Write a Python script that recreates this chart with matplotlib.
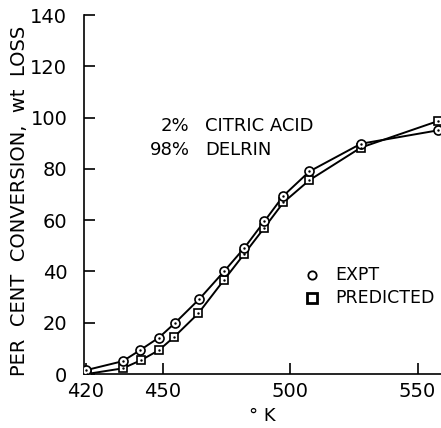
import matplotlib
matplotlib.use("Agg")
import matplotlib.pyplot as plt

# Data
expt_K = [420, 434.4, 441.2, 448.6, 454.9, 464.4, 474.2, 482.1, 489.9, 497.4, 507.6, 527.8, 557.9]
expt_y = [1.5, 5.0, 9.3, 14.2, 19.9, 29.2, 40.1, 49.2, 59.5, 69.5, 79.0, 89.8, 95.0]
pred_K = [420.3, 434.4, 441.6, 448.6, 454.6, 464.0, 474.2, 482.1, 489.9, 497.4, 507.6, 527.8, 557.9]
pred_y = [0.0, 2.2, 5.4, 9.3, 14.5, 23.6, 36.8, 46.9, 57.0, 66.9, 75.6, 88.3, 98.6]
xticks = [420, 450, 500, 550]
yticks = [0, 20, 40, 60, 80, 100, 120, 140]

plt.rcParams['font.family'] = ['DejaVu Sans']
W, H = 441, 428
fig = plt.figure(figsize=(W / 100, H / 100), dpi=100)
ax = fig.add_axes([84 / W, 54 / H, (W - 84) / W, (374 - 15) / H])

ax.plot(expt_K, expt_y, color='black', lw=1.4, zorder=2)
ax.plot(pred_K, pred_y, color='black', lw=1.4, zorder=2)
ax.plot(pred_K, pred_y, ls='none', marker='s', ms=6, mfc='white', mec='black', mew=1.2, zorder=3)
ax.plot(expt_K, expt_y, ls='none', marker='o', ms=6.5, mfc='white', mec='black', mew=1.2, zorder=4)
ax.plot(pred_K, pred_y, ls='none', marker='.', ms=1.5, color='black', zorder=5)
ax.plot(expt_K, expt_y, ls='none', marker='.', ms=1.5, color='black', zorder=5)

ax.set_xlim(419.2, 559.2)
ax.set_ylim(0, 140)
ax.set_xticks(xticks)
ax.set_yticks(yticks)
for s in ['top', 'right']:
    ax.spines[s].set_visible(False)
for s in ['left', 'bottom']:
    ax.spines[s].set_linewidth(1.2)
ax.tick_params(axis='both', direction='in', length=8, width=1.2, labelsize=14)
ax.tick_params(axis='x', pad=6)
ax.tick_params(axis='y', pad=12)

ax.set_xlabel('° K', fontsize=13, labelpad=4)
ax.set_ylabel('PER  CENT  CONVERSION,  wt  LOSS', fontsize=14, va='center', ha='center')
ax.yaxis.set_label_coords(-0.18, 0.482)

ax.text(460.6, 96.6, '2%', fontsize=13, ha='right', va='center')
ax.text(460.6, 87.4, '98%', fontsize=13, ha='right', va='center')
ax.text(466.8, 96.6, 'CITRIC ACID', fontsize=13, ha='left', va='center')
ax.text(466.8, 87.4, 'DELRIN', fontsize=13, ha='left', va='center')

ax.text(517.6, 38.8, 'EXPT', fontsize=12.5, va='center', ha='left')
ax.text(517.6, 29.5, 'PREDICTED', fontsize=12.5, va='center', ha='left')
ax.plot([508.8], [38.8], ls='none', marker='o', ms=6, mfc='white', mec='black', mew=1.3)
ax.plot([508.8], [29.5], ls='none', marker='s', ms=6.5, mfc='white', mec='black', mew=2)

fig.savefig('out.png', dpi=100)
